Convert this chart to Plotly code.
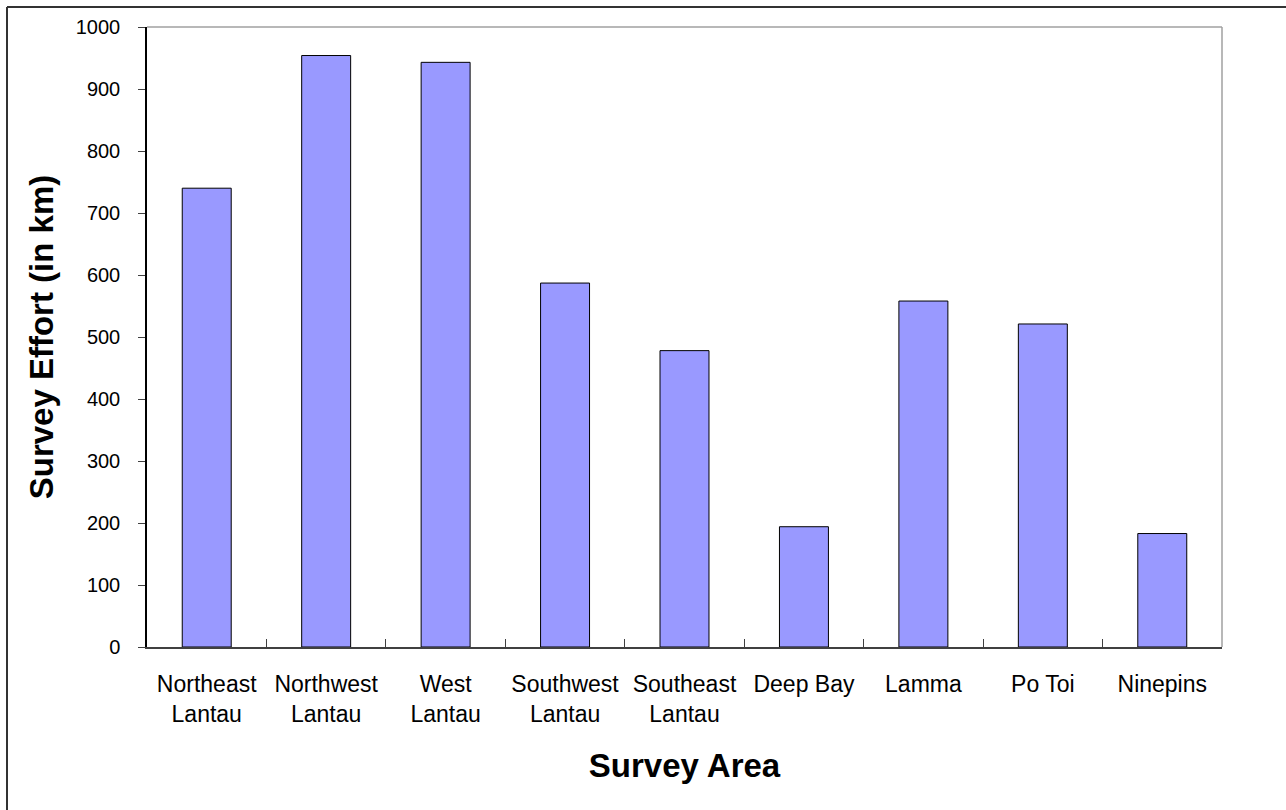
import plotly.graph_objects as go

categories = ["Northeast<br>Lantau", "Northwest<br>Lantau", "West<br>Lantau", "Southwest<br>Lantau",
              "Southeast<br>Lantau", "Deep Bay", "Lamma", "Po Toi", "Ninepins"]
effort_km = [740, 954, 943, 587, 478, 194, 558, 521, 183]
y_ticks = [0, 100, 200, 300, 400, 500, 600, 700, 800, 900, 1000]

W, H = 1286, 810
L, R, T, B = 147, 1222, 27, 647

fig = go.Figure(go.Bar(
    x=categories, y=effort_km,
    width=0.41,
    marker=dict(color="#9999FF", line=dict(color="#000000", width=1)),
))

def px_x(p):
    return (p - L) / (R - L)

def px_y(p):
    return (B - p) / (B - T)

fig.update_layout(
    width=W, height=H,
    margin=dict(l=L, r=W - R, t=T, b=H - B, autoexpand=False),
    paper_bgcolor="white", plot_bgcolor="white",
    font=dict(family="Liberation Sans, Arial, sans-serif", color="black"),
    showlegend=False,
    bargap=0.59,
    xaxis=dict(
        type="category",
        showline=True, linecolor="#404040", linewidth=2,
        ticks="inside", tickson="boundaries", ticklen=8, tickcolor="#404040", tickwidth=1,
        tickfont=dict(size=23),
        ticklabelstandoff=15,
        showgrid=False, zeroline=False,
        automargin=False,
        title=dict(text="<b>Survey Area</b>", font=dict(size=33), standoff=28),
    ),
    yaxis=dict(
        range=[0, 1000], tickvals=y_ticks,
        showline=True, linecolor="#000000", linewidth=1.5,
        ticks="outside", ticklen=7, tickcolor="#404040", tickwidth=1,
        tickfont=dict(size=20),
        ticklabelstandoff=14,
        showgrid=False, zeroline=False,
        automargin=False,
        title=dict(text="<b>Survey Effort (in km)</b>", font=dict(size=33), standoff=12),
    ),
    shapes=[
        # plot area top/right border (grey)
        dict(type="line", xref="paper", yref="paper", x0=0, x1=1, y0=1, y1=1,
             line=dict(color="#A0A0A0", width=1.5)),
        dict(type="line", xref="paper", yref="paper", x0=1, x1=1, y0=0, y1=1,
             line=dict(color="#A0A0A0", width=1.5)),
        # outer chart frame (top and left visible)
        dict(type="line", xref="paper", yref="paper", x0=px_x(7), x1=px_x(1300), y0=px_y(7), y1=px_y(7),
             line=dict(color="#333333", width=2)),
        dict(type="line", xref="paper", yref="paper", x0=px_x(7), x1=px_x(7), y0=px_y(7), y1=px_y(820),
             line=dict(color="#333333", width=2)),
    ],
)

fig.write_html("out.html")
